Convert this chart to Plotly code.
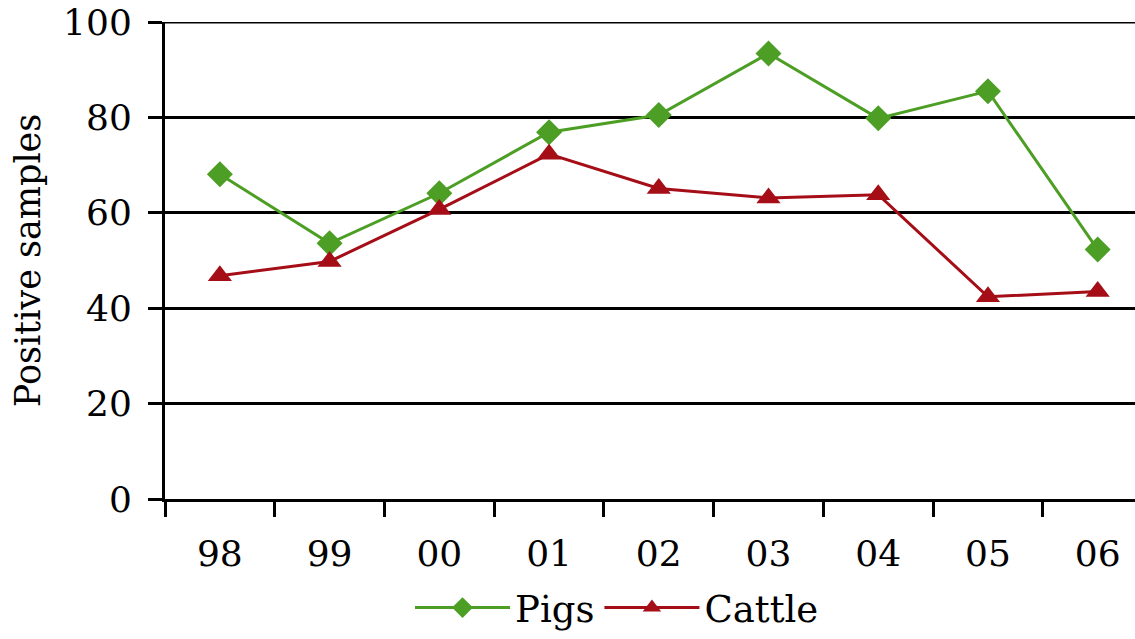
import plotly.graph_objects as go

years = ["98", "99", "00", "01", "02", "03", "04", "05", "06"]
pigs = [68.1, 53.6, 64.1, 76.9, 80.5, 93.4, 79.8, 85.5, 52.3]
cattle = [46.8, 49.8, 60.7, 72.3, 65.1, 63.1, 63.8, 42.4, 43.5]
y_ticks = [0, 20, 40, 60, 80, 100]

GREEN = "#4C9E24"
RED = "#A50D17"
FONT = "DejaVu Serif"

fig = go.Figure()
fig.add_trace(go.Scatter(x=years, y=pigs, name="Pigs", mode="lines+markers",
                         line=dict(color=GREEN, width=3),
                         marker=dict(symbol="diamond", size=20, color=GREEN)))
fig.add_trace(go.Scatter(x=years, y=cattle, name="Cattle", mode="lines+markers",
                         line=dict(color=RED, width=3),
                         marker=dict(symbol="triangle-up", size=21, color=RED)))

# top gridline at 100 (edge of plot)
fig.add_shape(type="line", xref="paper", x0=0, x1=1, yref="y", y0=100, y1=100,
              line=dict(color="black", width=3), layer="above")

fig.update_layout(
    width=1135, height=639,
    margin=dict(l=165, r=0, t=22, b=140, autoexpand=False),
    plot_bgcolor="white", paper_bgcolor="white",
    font=dict(family=FONT, size=36, color="black"),
    showlegend=True,
    legend=dict(orientation="h", x=0.466, xanchor="center",
                yref="container", y=-0.026, yanchor="bottom",
                font=dict(family=FONT, size=37), itemwidth=95,
                traceorder="normal"),
)
fig.update_xaxes(type="category", range=[-0.5, 8.34], showgrid=False, automargin=False,
                 showline=True, linecolor="black", linewidth=3,
                 ticks="outside", ticklen=15, tickwidth=3, tickcolor="black",
                 tickson="boundaries", ticklabelstandoff=21, ticklabeloverflow="allow",
                 tickfont=dict(family=FONT, size=36))
fig.update_yaxes(range=[0, 100], tickvals=y_ticks, showgrid=True, gridcolor="black",
                 automargin=False, ticklabeloverflow="allow",
                 gridwidth=3, showline=True, linecolor="black", linewidth=3,
                 ticks="outside", ticklen=14, tickwidth=3, tickcolor="black",
                 ticklabelstandoff=9, zeroline=False,
                 title=dict(text="Positive samples", font=dict(family=FONT, size=35),
                            standoff=12),
                 tickfont=dict(family=FONT, size=36))

fig.write_html("out.html", config={"displayModeBar": False},
               post_script="document.body.style.margin='0';document.body.style.overflow='hidden';")
